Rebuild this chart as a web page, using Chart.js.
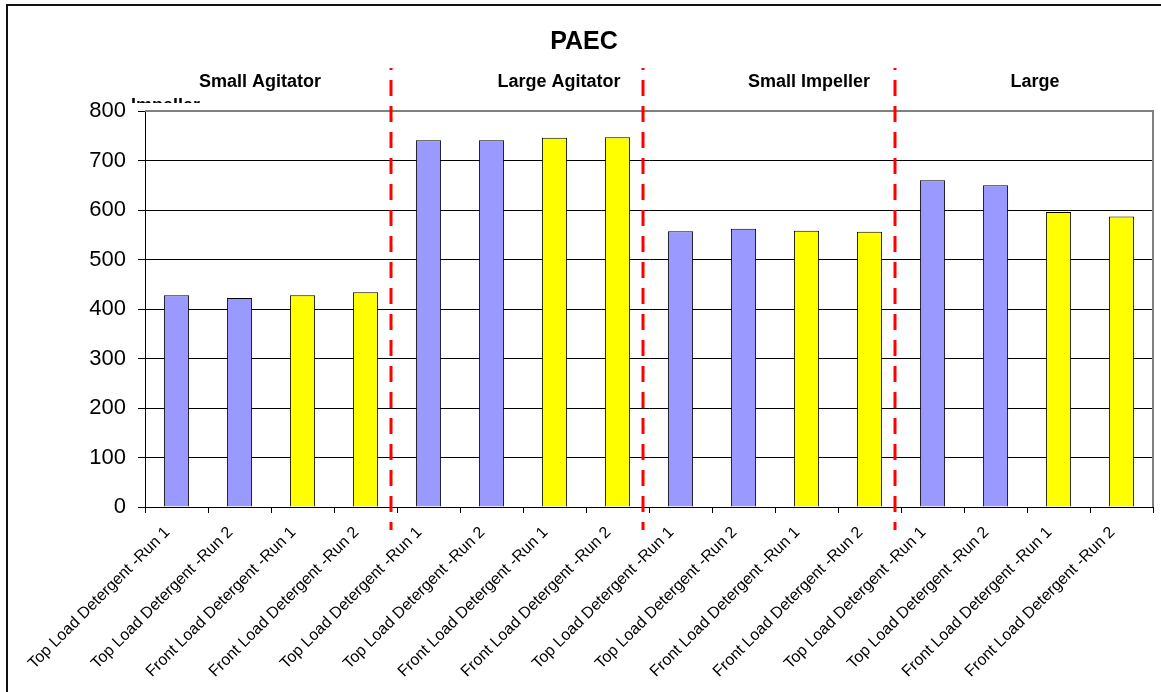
<!DOCTYPE html>
<html>
<head>
<meta charset="utf-8">
<script src="https://cdn.jsdelivr.net/npm/chart.js@4/dist/chart.umd.min.js"></script>
<style>
  body { margin: 0; background: #fff; }
  #wrap { width: 1161px; height: 692px; }
</style>
</head>
<body>
<div id="wrap"><canvas id="graficaPaec" width="1161" height="692"></canvas></div>
<script>
// datos
let categorias = [
    "Top Load Detergent -Run 1", "Top Load Detergent -Run 2",
    "Front Load Detergent -Run 1", "Front Load Detergent -Run 2",
    "Top Load Detergent -Run 1", "Top Load Detergent -Run 2",
    "Front Load Detergent -Run 1", "Front Load Detergent -Run 2",
    "Top Load Detergent -Run 1", "Top Load Detergent -Run 2",
    "Front Load Detergent -Run 1", "Front Load Detergent -Run 2",
    "Top Load Detergent -Run 1", "Top Load Detergent -Run 2",
    "Front Load Detergent -Run 1", "Front Load Detergent -Run 2"
];
let valores = [428, 422, 428, 434, 741, 741, 746, 747, 557, 562, 558, 556, 660, 650, 596, 587];
let grupos = ["Small Agitator", "Large Agitator", "Small Impeller", "Large"];
let tipoCarga = ["top", "top", "front", "front", "top", "top", "front", "front",
                 "top", "top", "front", "front", "top", "top", "front", "front"];
let colores = { top: "#9999ff", front: "#ffff00" };

// cuadros de texto colocados a mano en el original
let posGrupos = [260, 559, 809, 1035];

let decoracion = {
    id: "decoracion",
    beforeDraw(chart) {
        let c = chart.ctx;
        c.save();
        c.fillStyle = "#fff";
        c.fillRect(0, 0, chart.width, chart.height);
        c.restore();
    },
    beforeDatasetsDraw(chart) {
        let c = chart.ctx;
        let a = chart.chartArea;
        c.save();
        c.strokeStyle = "#808080";
        c.lineWidth = 2;
        c.beginPath();
        c.moveTo(a.left, a.top);
        c.lineTo(a.right, a.top);
        c.lineTo(a.right, a.bottom);
        c.stroke();
        c.restore();
    },
    afterDraw(chart) {
        let c = chart.ctx;
        let x = chart.scales.x;
        c.save();
        // marco exterior
        c.strokeStyle = "#111";
        c.lineWidth = 2;
        c.strokeRect(7, 5, chart.width + 10, chart.height + 10);

        // titulo
        c.fillStyle = "#000";
        c.textAlign = "center";
        c.textBaseline = "middle";
        c.font = "bold 25px Arial, 'Liberation Sans'";
        c.fillText("PAEC", 584, 42);

        // nombres de grupo
        c.font = "bold 18px Arial, 'Liberation Sans'";
        grupos.forEach((g, i) => c.fillText(g, posGrupos[i], 82));

        // texto "Impeller" tapado por el area de grafica
        c.save();
        c.beginPath();
        c.rect(120, 88, 120, 15);
        c.clip();
        c.textAlign = "left";
        c.textBaseline = "alphabetic";
        c.fillText("Impeller", 131, 111);
        c.restore();

        // lineas rojas punteadas
        c.strokeStyle = "#ff0000";
        c.lineWidth = 3;
        c.setLineDash([16, 10]);
        c.lineDashOffset = 14;
        for (let k = 1; k < grupos.length; k++) {
            let px = Math.round(x.getPixelForValue(k * 4 - 0.5)) - 6;
            c.beginPath();
            c.moveTo(px, 68);
            c.lineTo(px, 530);
            c.stroke();
        }
        c.restore();
    }
};

let ctx = document.getElementById("graficaPaec").getContext("2d");

let grafica = new Chart(ctx, {
    type: "bar",
    data: {
        labels: categorias,
        datasets: [{
            label: "PAEC",
            data: valores,
            backgroundColor: tipoCarga.map(t => colores[t]),
            borderColor: "#000",
            borderWidth: 1,
            barPercentage: 0.4,
            categoryPercentage: 1
        }]
    },
    options: {
        responsive: false,
        animation: false,
        layout: { padding: { top: 111, right: 8, left: 0, bottom: 0 } },
        plugins: {
            legend: { display: false },
            title: { display: false },
            tooltip: { enabled: false }
        },
        scales: {
            y: {
                min: 0,
                max: 800,
                ticks: {
                    stepSize: 100,
                    color: "#000",
                    font: { family: "Arial, 'Liberation Sans'", size: 22 },
                    padding: 12
                },
                grid: { color: "#000", tickLength: 7, lineWidth: 1 },
                border: { color: "#000", width: 1 },
                afterFit(s) { s.width = 145; }
            },
            x: {
                ticks: {
                    autoSkip: false,
                    minRotation: 45,
                    maxRotation: 45,
                    color: "#000",
                    font: { family: "Arial, 'Liberation Sans'", size: 16 },
                    padding: 10,
                    labelOffset: -9
                },
                grid: { drawOnChartArea: false, offset: true, tickLength: 6, color: "#000" },
                border: { color: "#000", width: 1 },
                afterFit(s) { s.height = 692 - 507; }
            }
        }
    },
    plugins: [decoracion]
});
</script>
</body>
</html>
